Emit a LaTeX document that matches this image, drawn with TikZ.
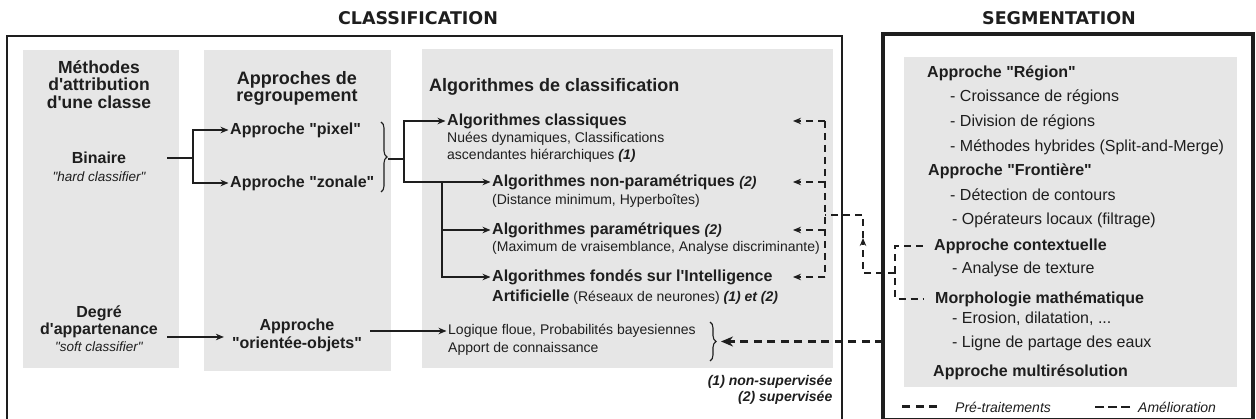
\documentclass[tikz,border=0pt]{standalone}
\usepackage{fontspec}
\usepackage{tikz}
\usetikzlibrary{arrows.meta,calc,positioning,decorations.pathreplacing}
\newfontfamily\arial{Liberation Sans}
\newfontfamily\heavyfont{DejaVu Sans}
\definecolor{ink}{HTML}{1E1E1E}
\definecolor{panel}{HTML}{E6E6E6}

\begin{document}
\begin{tikzpicture}[x=1pt,y=-1pt,>={Stealth[length=8pt,width=6.5pt]},
every node/.style={inner sep=1.5pt,text=ink},
lft/.style={anchor=west},
ttl/.style={font=\heavyfont\bfseries\fontsize{17.5}{17.5}\selectfont},
hd/.style={font=\arial\bfseries\fontsize{18}{17.5}\selectfont},
sub/.style={font=\arial\bfseries\fontsize{16}{18}\selectfont},
det/.style={font=\arial\fontsize{14}{16}\selectfont},
itm/.style={font=\arial\fontsize{16}{18}\selectfont},
note/.style={font=\arial\itshape\fontsize{13.5}{15}\selectfont},
fnote/.style={font=\arial\bfseries\itshape\fontsize{14}{15}\selectfont},
link/.style={draw=ink,line width=1.2pt},
amel/.style={draw=ink,line width=1.3pt,dash pattern=on 7pt off 5pt},
pre/.style={draw=ink,line width=3pt,dash pattern=on 8pt off 5.5pt},
brc/.style={draw=ink,line width=1.1pt,decorate,decoration={brace,amplitude=6pt}}]
\useasboundingbox (0,0) rectangle (1256,419);

% cadres et fonds
\node[ttl] (clsT) at (418,18) {CLASSIFICATION};
\node[ttl] (segT) at (1059,18) {SEGMENTATION};
\node[draw=ink,line width=1.5pt,outer sep=0pt,anchor=north west,minimum width=835,minimum height=390] (clsF) at (7,36) {};
\node[draw=ink,line width=3.5pt,outer sep=0pt,anchor=north west,minimum width=370,minimum height=386] (segF) at (883,34) {};
\fill[panel] (23,50) rectangle (179,368);
\fill[panel] (204,50) rectangle (391,371);
\fill[panel] (422,49) rectangle (833,368);
\fill[panel] (904,57) rectangle (1237,387);

% attribution
\node[hd,align=center,font=\arial\bfseries\fontsize{17.5}{17.5}\selectfont] (meth) at (99,84.5) {Méthodes\\d'attribution\\d'une classe};
\node[sub] (bin) at (99,158) {Binaire};
\node[note] (hard) at (99,177) {"hard classifier"};
\node[sub,align=center,font=\arial\bfseries\fontsize{16}{17}\selectfont] (deg) at (99,321.5) {Degré\\d'appartenance};
\node[note] (soft) at (99,347) {"soft classifier"};

% regroupement
\node[hd,align=center] (regr) at (297,88.5) {Approches de\\regroupement};
\node[sub,lft] (pix) at (228.5,130) {Approche "pixel"};
\node[sub,lft] (zon) at (228.5,183) {Approche "zonale"};
\node[sub,align=center,inner xsep=8pt] (oo) at (297,335) {Approche\\"orientée-objets"};

% algorithmes
\node[hd,lft] (algT) at (427.5,87) {Algorithmes de classification};
\node[sub,lft] (cla) at (445.5,121) {Algorithmes classiques};
\node[det,lft] (claA) at (445.5,138.5) {Nuées dynamiques, Classifications};
\node[det,lft] (claB) at (445.5,156) {ascendantes hiérarchiques \textbf{\textit{(1)}}};
\node[sub,lft] (npar) at (490.5,182) {Algorithmes non-paramétriques {\itshape\fontsize{14}{14}\selectfont(2)}};
\node[det,lft] (nparA) at (490.5,201) {(Distance minimum, Hyperboîtes)};
\node[sub,lft] (par) at (490.5,230) {Algorithmes paramétriques {\itshape\fontsize{14}{14}\selectfont(2)}};
\node[det,lft] (parA) at (490.5,248) {(Maximum de vraisemblance, Analyse discriminante)};
\node[sub,lft] (ia) at (490.5,277) {Algorithmes fondés sur l'Intelligence};
\node[det,lft] (iaA) at (490.5,297) {{\bfseries\fontsize{16}{16}\selectfont Artificielle} (Réseaux de neurones) \textbf{\textit{(1) et (2)}}};
\node[det,lft] (lf) at (446.5,331) {Logique floue, Probabilités bayesiennes};
\node[det,lft] (lfA) at (446.5,349) {Apport de connaissance};
\node[fnote,anchor=east] (fn1) at (834,382) {(1) non-supervisée};
\node[fnote,anchor=east] (fn2) at (834,398) {(2) supervisée};

% segmentation
\node[sub,lft] (reg) at (925.5,73) {Approche "Région"};
\node[itm,lft] (reg1) at (948.5,97) {- Croissance de régions};
\node[itm,lft] (reg2) at (948.5,122) {- Division de régions};
\node[itm,lft] (reg3) at (948.5,147) {- Méthodes hybrides (Split-and-Merge)};
\node[sub,lft] (fro) at (926.5,171) {Approche "Frontière"};
\node[itm,lft] (fro1) at (948.5,195) {- Détection de contours};
\node[itm,lft] (fro2) at (950.5,220) {- Opérateurs locaux (filtrage)};
\node[sub,lft] (ctx) at (932.5,246) {Approche contextuelle};
\node[itm,lft] (ctx1) at (950.5,269) {- Analyse de texture};
\node[sub,lft] (morph) at (933.5,299) {Morphologie mathématique};
\node[itm,lft] (morph1) at (950.5,319) {- Erosion, dilatation, ...};
\node[itm,lft] (morph2) at (950.5,343) {- Ligne de partage des eaux};
\node[sub,lft] (mres) at (931.5,372) {Approche multirésolution};

% legende
\node[note,lft,font=\arial\itshape\fontsize{14}{15}\selectfont] (lgPre) at (953.5,407) {Pré-traitements};
\node[note,lft,font=\arial\itshape\fontsize{14}{15}\selectfont] (lgAme) at (1136.5,407) {Amélioration};
\draw[pre] ([xshift=-16.5pt]lgPre.west) -- ++(-35,0);
\draw[amel,line width=1.2pt,dash pattern=on 9pt off 4pt] ([xshift=-6.5pt]lgAme.west) -- ++(-35,0);

% liaisons
\coordinate (binOut) at (167,158);
\coordinate (j1) at (193,158);
\draw[link] (binOut) -- (j1);
\draw[link,->] (j1) |- (pix.west);
\draw[link,->] (j1) |- (zon.west);
\draw[brc] (381,122) -- (381,192);
\coordinate (bTip) at (388,159);
\coordinate (j2) at (404,159);
\draw[link] (bTip) -- (j2);
\draw[link,->] (j2) |- (cla.west);
\draw[link,->] (j2) |- (npar.west);
\coordinate (j3) at (442,182);
\draw[link,->] (j3) |- (par.west);
\draw[link,->] (j3) |- (ia.west);
\coordinate (degOut) at (167,337);
\draw[link,->] (degOut) -- (degOut -| oo.west);
\draw[link,->] (oo.east |- lf.west) -- (lf.west);
\draw[brc] (710,322) -- (710,361);
\coordinate (b2Tip) at (721,341.5);
\draw[pre,-{Stealth[length=12pt,width=10pt]}] (segF.west |- b2Tip) -- (b2Tip);

% amelioration
\coordinate (busX) at (825,0);
\coordinate (tipX) at (793,0);
\foreach \n in {cla,npar,par,ia}
  \draw[amel,->] (busX |- \n.west) -- (tipX |- \n.west);
\draw[amel] (busX |- cla.west) -- (busX |- ia.west);
\coordinate (brk) at (895,273);
\coordinate (up) at (863,238);
\coordinate (fb) at (863,215);
\draw[amel] ([xshift=-10pt]ctx.west) -| (brk) |- ([xshift=-10pt]morph.west);
\draw[amel,->] (brk) -| (up);
\draw[amel] (up) -- (fb) -- (busX |- fb);
\end{tikzpicture}
\end{document}
